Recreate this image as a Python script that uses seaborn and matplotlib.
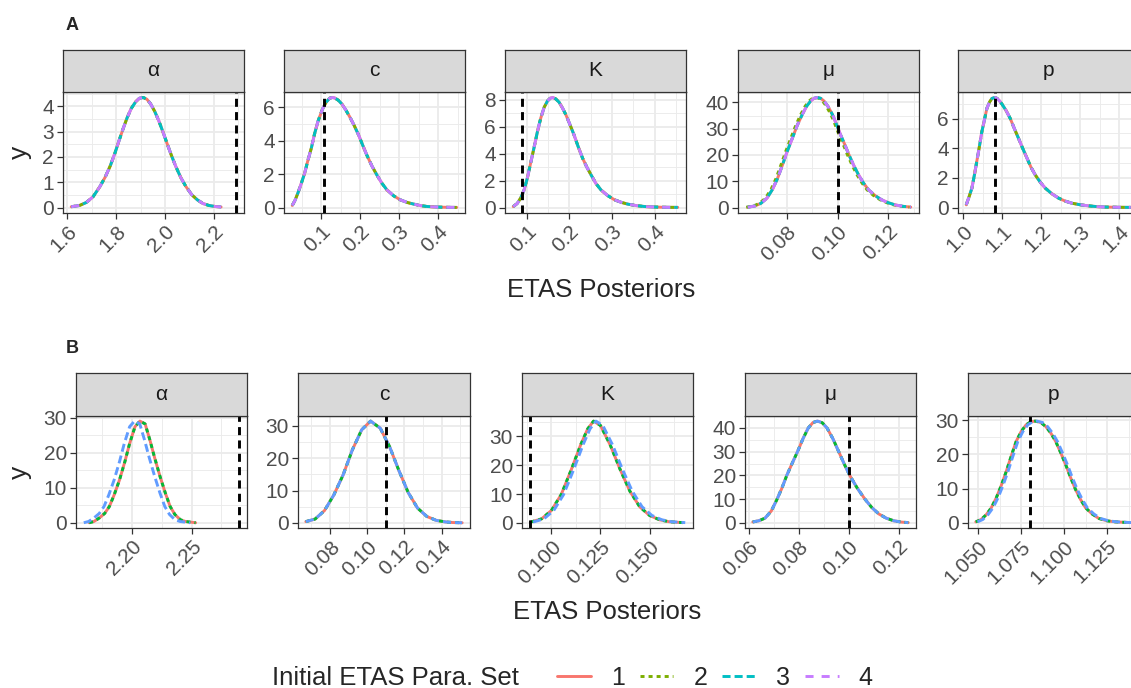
import numpy as np
import pandas as pd
import matplotlib
matplotlib.use("Agg")
import matplotlib.pyplot as plt
from matplotlib.lines import Line2D
import seaborn as sns

# ---------------- data ----------------
set_labels = ["1", "2", "3", "4"]
row_labels = ["A", "B"]
param_names = ["α", "c", "K", "μ", "p"]

# ---- Row A ----
A_alpha_x = [1.616, 1.65, 1.678, 1.705, 1.733, 1.755, 1.776, 1.795, 1.811, 1.828, 1.845, 1.862, 1.88, 1.895,
             1.911, 1.926, 1.941, 1.958, 1.975, 1.992, 2.009, 2.026, 2.044, 2.065, 2.085, 2.11, 2.133, 2.155,
             2.18, 2.205, 2.23]
A_alpha_y = [0.03, 0.08, 0.2, 0.42, 0.82, 1.2, 1.65, 2.15, 2.62, 3.1, 3.55, 3.92, 4.18, 4.32,
             4.35, 4.28, 4.1, 3.8, 3.42, 2.98, 2.52, 2.07, 1.63, 1.18, 0.84, 0.5, 0.3, 0.16,
             0.08, 0.04, 0.02]

A_c_x = [0.025, 0.032, 0.0395, 0.048, 0.0568, 0.065, 0.074, 0.082, 0.091, 0.098, 0.104, 0.112, 0.121, 0.128,
         0.134, 0.143, 0.152, 0.162, 0.173, 0.184, 0.195, 0.205, 0.216, 0.229, 0.242, 0.255, 0.268, 0.285,
         0.302, 0.32, 0.337, 0.355, 0.371, 0.39, 0.406, 0.425, 0.447]
A_c_y = [0.12, 0.42, 0.86, 1.42, 2.05, 2.8, 3.55, 4.38, 5.15, 5.6, 5.95, 6.3, 6.54, 6.58,
         6.55, 6.42, 6.2, 5.85, 5.4, 4.9, 4.35, 3.77, 3.15, 2.5, 1.95, 1.45, 1.05, 0.7,
         0.46, 0.3, 0.2, 0.11, 0.06, 0.035, 0.02, 0.01, 0.005]

A_K_x = [0.0686, 0.078, 0.0858, 0.094, 0.1016, 0.109, 0.117, 0.125, 0.133, 0.141, 0.149, 0.155, 0.161, 0.168,
         0.176, 0.184, 0.192, 0.201, 0.211, 0.221, 0.231, 0.241, 0.251, 0.262, 0.274, 0.29, 0.306, 0.322,
         0.337, 0.357, 0.377, 0.396, 0.416, 0.435, 0.454]
A_K_y = [0.07, 0.3, 0.69, 1.3, 2.18, 3.25, 4.4, 5.6, 6.64, 7.45, 7.93, 8.12, 8.18, 8.08,
         7.83, 7.4, 6.89, 6.2, 5.4, 4.5, 3.67, 3.0, 2.42, 1.8, 1.31, 0.88, 0.57, 0.38,
         0.25, 0.14, 0.07, 0.04, 0.02, 0.012, 0.01]

A_mu_x = [0.0646, 0.0675, 0.0698, 0.0722, 0.0744, 0.0763, 0.0783, 0.0802, 0.0822, 0.0841, 0.0861, 0.0878,
          0.0894, 0.0907, 0.092, 0.0933, 0.0946, 0.0962, 0.0979, 0.0995, 0.1011, 0.1028, 0.1044, 0.1063,
          0.1082, 0.1102, 0.1122, 0.1148, 0.1174, 0.12, 0.1226, 0.1257, 0.1288]
A_mu_x_set2 = [0.064, 0.0669, 0.0692, 0.0716, 0.0738, 0.0757, 0.0777, 0.0796, 0.0816, 0.0835, 0.0855, 0.0872,
               0.0888, 0.0901, 0.0914, 0.0927, 0.094, 0.0956, 0.0973, 0.0989, 0.1005, 0.1022, 0.1038, 0.1057,
               0.1076, 0.1096, 0.1116, 0.1142, 0.1168, 0.1194, 0.122, 0.1251, 0.1282]
A_mu_y = [0.1, 0.6, 1.6, 3.6, 7.0, 11.0, 16.3, 21.5, 26.5, 31.3, 35.5, 38.6,
          40.6, 41.6, 41.9, 41.6, 40.6, 38.5, 35.5, 31.8, 27.8, 24.0, 20.2, 16.1,
          12.5, 9.3, 6.7, 4.5, 2.9, 1.8, 1.0, 0.45, 0.15]

A_p_x = [1.007, 1.014, 1.0215, 1.028, 1.034, 1.041, 1.047, 1.054, 1.06, 1.067, 1.073, 1.08, 1.086, 1.092,
         1.098, 1.109, 1.12, 1.13, 1.141, 1.152, 1.163, 1.173, 1.184, 1.197, 1.21, 1.227, 1.244, 1.261,
         1.278, 1.3, 1.321, 1.342, 1.363, 1.395, 1.429]
A_p_y = [0.18, 0.7, 1.3, 2.2, 3.1, 4.15, 5.1, 5.95, 6.69, 7.12, 7.36, 7.42, 7.36, 7.2,
         7.0, 6.55, 6.0, 5.35, 4.67, 3.98, 3.32, 2.72, 2.2, 1.7, 1.3, 0.92, 0.63, 0.43,
         0.29, 0.18, 0.11, 0.06, 0.03, 0.015, 0.008]

# ---- Row B ----
B_alpha_x = [2.164, 2.168, 2.1725, 2.177, 2.181, 2.185, 2.1895, 2.194, 2.198, 2.2025, 2.2066, 2.211,
             2.215, 2.219, 2.2236, 2.228, 2.232, 2.236, 2.2406, 2.245, 2.2534]
B_alpha_x_set3 = [2.1595, 2.1635, 2.168, 2.1725, 2.1765, 2.1805, 2.185, 2.1895, 2.1935, 2.198, 2.2021, 2.2065,
                  2.2105, 2.2145, 2.2191, 2.2235, 2.2275, 2.2315, 2.2361, 2.2405, 2.2489]
B_alpha_y = [0.05, 0.4, 1.4, 2.7, 4.7, 8.0, 12.3, 17.5, 22.7, 27.5, 29.1, 28.3,
             23.7, 18.6, 13.2, 8.5, 4.7, 2.4, 0.9, 0.4, 0.05]

B_c_x = [0.067, 0.072, 0.077, 0.082, 0.087, 0.092, 0.097, 0.1018, 0.107, 0.112, 0.117, 0.122, 0.127,
         0.132, 0.137, 0.142, 0.146, 0.151]
B_c_y = [0.4, 1.2, 3.8, 8.6, 14.8, 22.6, 28.8, 31.5, 29.3, 23.6, 16.2, 9.4, 4.6,
         2.0, 0.8, 0.3, 0.12, 0.04]

B_K_x = [0.0895, 0.095, 0.100, 0.105, 0.110, 0.115, 0.1185, 0.1215, 0.125, 0.130, 0.135, 0.140, 0.145,
         0.150, 0.155, 0.160, 0.167]
B_K_x_set3 = [0.0907, 0.0962, 0.1012, 0.1062, 0.1112, 0.1162, 0.1197, 0.1227, 0.1262, 0.1312, 0.1362,
              0.1412, 0.1462, 0.1512, 0.1562, 0.1612, 0.1682]
B_K_y = [0.3, 1.4, 4.3, 9.8, 18.2, 27.2, 32.6, 35.3, 33.8, 27.0, 18.6, 11.0, 5.6,
         2.6, 1.1, 0.4, 0.1]

B_mu_x = [0.0616, 0.064, 0.0665, 0.069, 0.0711, 0.0732, 0.0752, 0.0774, 0.0795, 0.0817, 0.0838, 0.0857,
          0.0875, 0.0894, 0.0913, 0.0937, 0.096, 0.0982, 0.1004, 0.1035, 0.1065, 0.1092, 0.112, 0.115,
          0.118, 0.121, 0.1238]
B_mu_y = [0.4, 0.9, 2.0, 5.0, 9.5, 14.5, 20.0, 25.2, 30.0, 35.5, 40.0, 42.3,
          42.9, 42.2, 40.0, 35.4, 30.0, 24.8, 20.0, 14.5, 10.0, 6.5, 3.8, 2.0,
          0.9, 0.35, 0.12]

B_p_x = [1.0487, 1.0518, 1.0548, 1.0577, 1.0606, 1.0635, 1.0664, 1.0693, 1.0721, 1.075, 1.0779, 1.0806,
         1.0833, 1.0864, 1.0894, 1.0923, 1.0952, 1.0981, 1.101, 1.1038, 1.1067, 1.1096, 1.1125, 1.1163,
         1.1202, 1.125, 1.1298, 1.138]
B_p_x_set3 = [1.0497, 1.0528, 1.0558, 1.0587, 1.0616, 1.0645, 1.0674, 1.0703, 1.0731, 1.076, 1.0789, 1.0816,
              1.0843, 1.0874, 1.0904, 1.0933, 1.0962, 1.0991, 1.102, 1.1048, 1.1077, 1.1106, 1.1135, 1.1173,
              1.1212, 1.126, 1.1308, 1.139]
B_p_y = [0.3, 1.0, 2.4, 4.4, 7.3, 10.9, 15.0, 19.5, 23.7, 26.6, 28.6, 29.5,
         29.7, 29.3, 28.1, 26.2, 23.7, 20.4, 16.9, 13.2, 9.7, 6.8, 4.4, 2.6,
         1.3, 0.6, 0.3, 0.1]

# true parameter values (dashed vertical lines)
A_vlines = [2.29, 0.107, 0.09, 0.10, 1.08]
B_vlines = [2.29, 0.11, 0.089, 0.10, 1.08]

# tick breaks and labels
A_xticks = [[1.6, 1.8, 2.0, 2.2], [0.1, 0.2, 0.3, 0.4], [0.1, 0.2, 0.3, 0.4], [0.08, 0.10, 0.12],
            [1.0, 1.1, 1.2, 1.3, 1.4]]
A_xticklabels = [["1.6", "1.8", "2.0", "2.2"], ["0.1", "0.2", "0.3", "0.4"], ["0.1", "0.2", "0.3", "0.4"],
                 ["0.08", "0.10", "0.12"], ["1.0", "1.1", "1.2", "1.3", "1.4"]]
A_yticks = [[0, 1, 2, 3, 4], [0, 2, 4, 6], [0, 2, 4, 6, 8], [0, 10, 20, 30, 40], [0, 2, 4, 6]]
B_xticks = [[2.20, 2.25], [0.08, 0.10, 0.12, 0.14], [0.100, 0.125, 0.150], [0.06, 0.08, 0.10, 0.12],
            [1.050, 1.075, 1.100, 1.125]]
B_xticklabels = [["2.20", "2.25"], ["0.08", "0.10", "0.12", "0.14"], ["0.100", "0.125", "0.150"],
                 ["0.06", "0.08", "0.10", "0.12"], ["1.050", "1.075", "1.100", "1.125"]]
B_yticks = [[0, 10, 20, 30], [0, 10, 20, 30], [0, 10, 20, 30], [0, 10, 20, 30, 40], [0, 10, 20, 30]]

# curves per panel: set -> (x, y)
A_curves = [
    {"1": (A_alpha_x, A_alpha_y), "2": (A_alpha_x, A_alpha_y), "3": (A_alpha_x, A_alpha_y), "4": (A_alpha_x, A_alpha_y)},
    {"1": (A_c_x, A_c_y), "2": (A_c_x, A_c_y), "3": (A_c_x, A_c_y), "4": (A_c_x, A_c_y)},
    {"1": (A_K_x, A_K_y), "2": (A_K_x, A_K_y), "3": (A_K_x, A_K_y), "4": (A_K_x, A_K_y)},
    {"1": (A_mu_x, A_mu_y), "2": (A_mu_x_set2, A_mu_y), "3": (A_mu_x, A_mu_y), "4": (A_mu_x, A_mu_y)},
    {"1": (A_p_x, A_p_y), "2": (A_p_x, A_p_y), "3": (A_p_x, A_p_y), "4": (A_p_x, A_p_y)},
]
B_curves = [
    {"1": (B_alpha_x, B_alpha_y), "2": (B_alpha_x, B_alpha_y), "3": (B_alpha_x_set3, B_alpha_y)},
    {"1": (B_c_x, B_c_y), "2": (B_c_x, B_c_y), "3": (B_c_x, B_c_y)},
    {"1": (B_K_x, B_K_y), "2": (B_K_x, B_K_y), "3": (B_K_x_set3, B_K_y)},
    {"1": (B_mu_x, B_mu_y), "2": (B_mu_x, B_mu_y), "3": (B_mu_x, B_mu_y)},
    {"1": (B_p_x, B_p_y), "2": (B_p_x, B_p_y), "3": (B_p_x_set3, B_p_y)},
]

# ---------------- styling ----------------
A_palette = {"1": "#F8766D", "2": "#7CAE00", "3": "#00BFC4", "4": "#C77CFF"}
B_palette = {"1": "#F8766D", "2": "#00BA38", "3": "#619CFF"}
dash_map = {"1": "", "2": (2.9, 2.9), "3": (5.8, 2.9), "4": (5.8, 5.8)}
LW = 2.1

sns.set_theme(style="white")
plt.rcParams["font.family"] = ["Liberation Sans", "DejaVu Sans"]
plt.rcParams["lines.scale_dashes"] = False
plt.rcParams["axes.unicode_minus"] = False

W, H = 1131, 688
fig = plt.figure(figsize=(W / 100, H / 100), dpi=100)
fig.patch.set_facecolor("white")


def axes_px(x0, x1, y0, y1):
    return fig.add_axes([x0 / W, 1 - y1 / H, (x1 - x0) / W, (y1 - y0) / H])


# layout in pixels: panel left/right edges, strip top, panel top, panel bottom
layout = {
    "A": {"x": [(63, 244), (284, 465), (505, 686), (738, 919), (958, 1139)], "strip": 50, "top": 92, "bottom": 213},
    "B": {"x": [(76, 247), (298, 470), (522, 693), (745, 916), (968, 1139)], "strip": 373, "top": 416, "bottom": 528},
}
rows = {
    "A": (A_curves, A_vlines, A_xticks, A_xticklabels, A_yticks, A_palette, ["1", "2", "3", "4"]),
    "B": (B_curves, B_vlines, B_xticks, B_xticklabels, B_yticks, B_palette, ["1", "2", "3"]),
}

for row in row_labels:
    curves, vlines, xticks, xticklabels, yticks, palette, order = rows[row]
    lay = layout[row]
    for i, name in enumerate(param_names):
        x0, x1 = lay["x"][i]
        ax = axes_px(x0, x1, lay["top"], lay["bottom"])
        recs = []
        for s in order:
            xs, ys = curves[i][s]
            for xv, yv in zip(xs, ys):
                recs.append({"x": xv, "y": yv, "set": s})
        df = pd.DataFrame(recs)
        sns.lineplot(data=df, x="x", y="y", hue="set", style="set", hue_order=order, style_order=order,
                     palette=palette, dashes={s: dash_map[s] for s in order}, linewidth=LW,
                     estimator=None, sort=False, legend=False, ax=ax)
        ax.axvline(vlines[i], color="black", lw=LW, linestyle=(0, (5.8, 3.8)), zorder=5)

        # limits with ggplot-like 5% expansion
        lo = min(df["x"].min(), vlines[i])
        hi = max(df["x"].max(), vlines[i])
        pad = 0.05 * (hi - lo)
        ymax = df["y"].max()

        # ticks
        xt = xticks[i]
        ax.set_xticks(xt)
        ax.set_xticklabels(xticklabels[i], rotation=45, ha="right", va="top", rotation_mode="anchor")
        yt = yticks[i]
        ax.set_yticks(yt)
        ax.set_yticklabels([str(v) for v in yt])
        xstep = xt[1] - xt[0]
        xmin_ticks = [xt[0] - xstep / 2] + [(a + b) / 2 for a, b in zip(xt[:-1], xt[1:])] + [xt[-1] + xstep / 2]
        ystep = yt[1] - yt[0]
        ymin_ticks = [(a + b) / 2 for a, b in zip(yt[:-1], yt[1:])] + [yt[-1] + ystep / 2]
        ax.set_xticks(xmin_ticks, minor=True)
        ax.set_yticks(ymin_ticks, minor=True)
        ax.set_xlim(lo - pad, hi + pad)
        ax.set_ylim(-0.05 * ymax, 1.05 * ymax)

        ax.grid(which="major", color="#EBEBEB", lw=1.3)
        ax.grid(which="minor", color="#EBEBEB", lw=0.65)
        ax.set_axisbelow(True)
        ax.tick_params(which="major", length=4, width=0.9, color="#333333", labelsize=15,
                       labelcolor="#4D4D4D", pad=2.5, bottom=True, left=True)
        ax.tick_params(which="minor", length=0, bottom=False, left=False)
        for sp in ax.spines.values():
            sp.set_color("#333333")
            sp.set_linewidth(0.9)
        ax.set_xlabel("")
        ax.set_ylabel("")

        # facet strip
        sax = axes_px(x0, x1, lay["strip"], lay["top"])
        sax.set_facecolor("#D9D9D9")
        sax.set_xticks([])
        sax.set_yticks([])
        for sp in sax.spines.values():
            sp.set_color("#333333")
            sp.set_linewidth(0.9)
        sax.text(0.5, 0.5, name, ha="center", va="center", fontsize=15, color="#1A1A1A",
                 transform=sax.transAxes)

# row tags, axis titles
fig.text(66 / W, 1 - 30 / H, "A", fontsize=13, fontweight="bold", ha="left", va="baseline")
fig.text(66 / W, 1 - 353 / H, "B", fontsize=13, fontweight="bold", ha="left", va="baseline")
fig.text(20 / W, 1 - 152 / H, "y", rotation=90, fontsize=19, ha="center", va="center")
fig.text(20 / W, 1 - 472 / H, "y", rotation=90, fontsize=19, ha="center", va="center")
fig.text(601 / W, 1 - 297 / H, "ETAS Posteriors", fontsize=18.5, ha="center", va="baseline")
fig.text(607 / W, 1 - 619 / H, "ETAS Posteriors", fontsize=18.5, ha="center", va="baseline")

# legend
fig.text(272 / W, 1 - 678 / H, "Initial ETAS Para. Set", fontsize=18.5, ha="left", va="center")
handles = [Line2D([0], [0], color=A_palette[s], lw=LW,
                  linestyle="-" if dash_map[s] == "" else (0, dash_map[s])) for s in set_labels]
fig.legend(handles, set_labels, loc="center left", bbox_to_anchor=(557 / W, 1 - 678 / H), ncol=4,
           frameon=False, fontsize=18, handlelength=1.35, handletextpad=0.8, columnspacing=0.6,
           borderpad=0, borderaxespad=0)

fig.savefig("out.png", dpi=100, facecolor="white")
